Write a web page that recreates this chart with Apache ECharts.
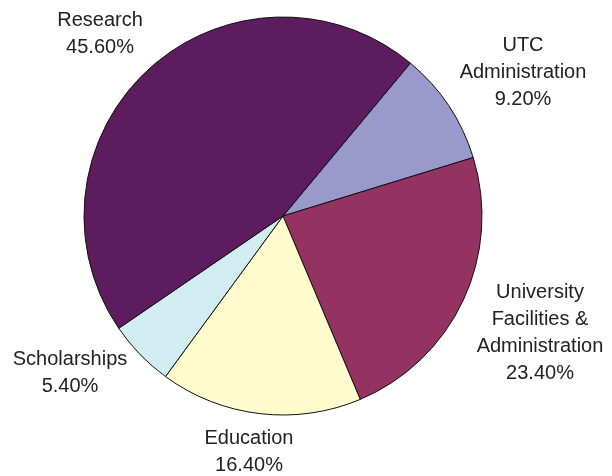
<!DOCTYPE html>
<html>
<head>
<meta charset="utf-8">
<script src="https://cdn.jsdelivr.net/npm/echarts@6/dist/echarts.min.js"></script>
<style>
html,body{margin:0;padding:0;background:#fff;}
#chart{width:612px;height:476px;}
</style>
</head>
<body>
<div id="chart"></div>
<script>
// Data (clockwise from the UTC slice)
const categories = ['UTC\nAdministration', 'University\nFacilities &\nAdministration', 'Education', 'Scholarships', 'Research'];
const shares = [9.2, 23.4, 16.4, 5.4, 45.6];

// Styles
const colors = ['#9A99CB', '#943262', '#FFFBCC', '#D2EDF2', '#5C1C5E'];
const labelPos = [[523, 72], [540, 333], [249, 452], [70, 373], [100, 34]];

const chart = echarts.init(document.getElementById('chart'), null, {renderer: 'canvas'});
chart.setOption({
  animation: false,
  backgroundColor: '#fff',
  series: [{
    type: 'pie',
    center: [283, 216],
    radius: [0, 199],
    startAngle: 50.2,
    clockwise: true,
    avoidLabelOverlap: false,
    data: categories.map((c, i) => ({
      name: c, value: shares[i],
      itemStyle: {color: colors[i], borderColor: '#111', borderWidth: 1}
    })),
    label: {
      show: true,
      position: 'outside',
      formatter: p => p.name + '\n' + p.value.toFixed(2) + '%',
      fontFamily: '"Liberation Sans", Arial, sans-serif',
      fontSize: 20,
      lineHeight: 27,
      color: '#222',
      align: 'center'
    },
    labelLine: {show: false},
    labelLayout: p => ({
      x: labelPos[p.dataIndex][0],
      y: labelPos[p.dataIndex][1],
      align: 'center',
      verticalAlign: 'middle',
      hideOverlap: false
    }),
    emphasis: {disabled: true}
  }]
});
</script>
</body>
</html>
